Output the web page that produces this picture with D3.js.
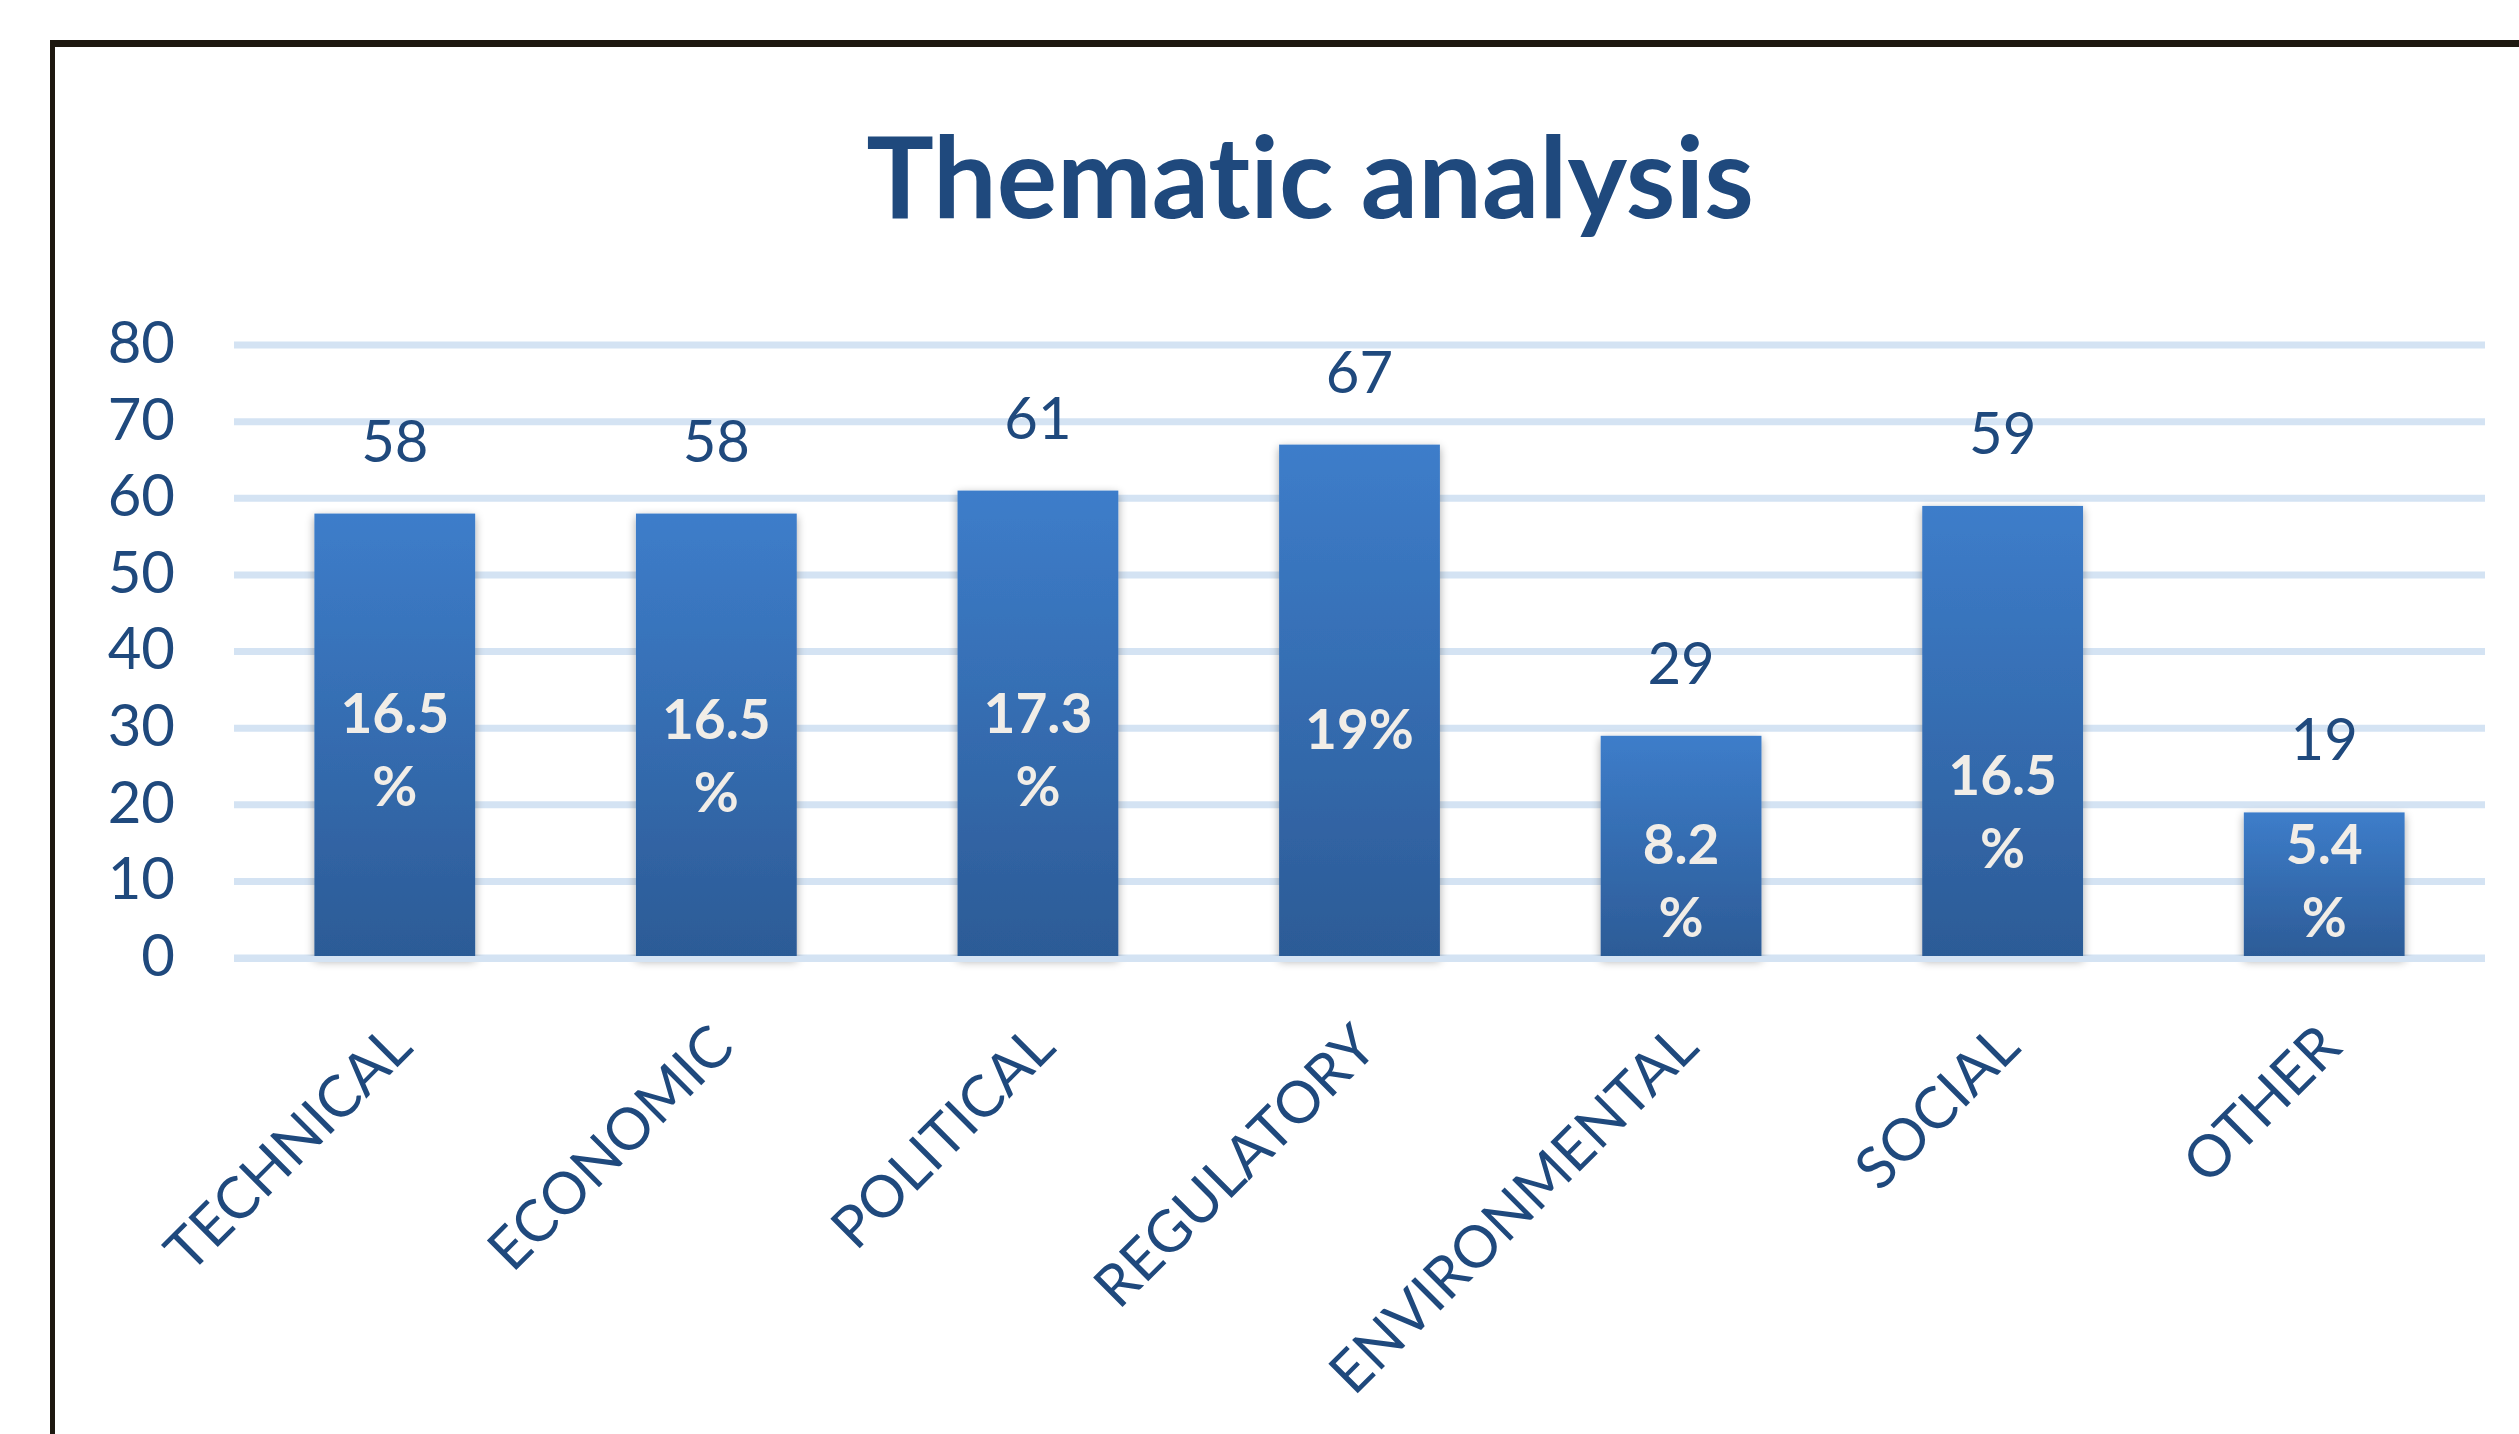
<!DOCTYPE html>
<html>
<head>
<meta charset="utf-8">
<script src="https://cdn.jsdelivr.net/npm/d3@7"></script>
<style>
  body { margin: 0; background: #fff; }
  svg { display: block; }
  text { font-variant-ligatures: none; }
</style>
</head>
<body>
<div id="chart"></div>
<script>
// values
var categories = ["TECHNICAL", "ECONOMIC", "POLITICAL", "REGULATORY", "ENVIRONMENTAL", "SOCIAL", "OTHER"];
var counts = [58, 58, 61, 67, 29, 59, 19];
var shares = [16.5, 16.5, 17.3, 19, 8.2, 16.5, 5.4];
var shareWrapped = [true, true, true, false, true, true, true];
var shareLabelAt = [32, 31.1, 32, 29.9, 14.9, 23.9, 14.9]; // axis units, first line centre
var yTicks = [0, 10, 20, 30, 40, 50, 60, 70, 80];

var width = 2519, height = 1434;
var textBlue = "#1f497d";
var gridColor = "#d4e3f3";
var font = "Lato, 'Open Sans', sans-serif";

var svg = d3.select("#chart").append("svg")
    .attr("width", width)
    .attr("height", height);

var defs = svg.append("defs");
var grad = defs.append("linearGradient")
    .attr("id", "barFill")
    .attr("x1", 0).attr("y1", 0).attr("x2", 0).attr("y2", 1);
grad.append("stop").attr("offset", "0%").attr("stop-color", "#3d7dca");
grad.append("stop").attr("offset", "100%").attr("stop-color", "#2c5b96");

var shadow = defs.append("filter")
    .attr("id", "barShadow")
    .attr("x", "-20%").attr("y", "-10%")
    .attr("width", "140%").attr("height", "120%");
shadow.append("feGaussianBlur").attr("in", "SourceAlpha").attr("stdDeviation", 5).attr("result", "blur");
shadow.append("feOffset").attr("in", "blur").attr("dx", 0).attr("dy", 3).attr("result", "off");
shadow.append("feComponentTransfer").attr("in", "off").attr("result", "soft")
    .append("feFuncA").attr("type", "linear").attr("slope", 0.35);
var merge = shadow.append("feMerge");
merge.append("feMergeNode").attr("in", "soft");
merge.append("feMergeNode").attr("in", "SourceGraphic");

// frame
svg.append("line")
    .attr("x1", 50).attr("x2", width)
    .attr("y1", 43.5).attr("y2", 43.5)
    .attr("stroke", "#1e1810").attr("stroke-width", 7);
svg.append("line")
    .attr("x1", 52.5).attr("x2", 52.5)
    .attr("y1", 40).attr("y2", height)
    .attr("stroke", "#1e1810").attr("stroke-width", 5);

// title
svg.append("text")
    .attr("x", 1310)
    .attr("y", 218)
    .attr("text-anchor", "middle")
    .style("font-family", font)
    .style("font-weight", "bold")
    .style("font-size", "113px")
    .attr("fill", textBlue)
    .text("Thematic analysis");

var x = d3.scaleBand()
    .domain(categories)
    .range([234, 2485])
    .paddingInner(0.5)
    .paddingOuter(0.25);

var y = d3.scaleLinear()
    .domain([0, 80])
    .range([958, 345]);

// gridlines
svg.append("g").selectAll("line")
    .data(yTicks)
    .enter().append("line")
    .attr("x1", 234).attr("x2", 2485)
    .attr("y1", function(d) { return y(d); })
    .attr("y2", function(d) { return y(d); })
    .attr("stroke", gridColor)
    .attr("stroke-width", 7);

// y axis labels
var yAxis = svg.append("g")
    .attr("transform", "translate(175,0)")
    .call(d3.axisLeft(y).tickValues(yTicks).tickSize(0).tickPadding(0));
yAxis.select(".domain").remove();
yAxis.selectAll("text")
    .style("font-family", font)
    .style("font-size", "58px")
    .attr("fill", textBlue)
    .attr("dy", "0.3em");

// bars
svg.append("g").selectAll("rect")
    .data(counts)
    .enter().append("rect")
    .attr("x", function(d, i) { return x(categories[i]); })
    .attr("y", function(d) { return y(d); })
    .attr("width", x.bandwidth())
    .attr("height", function(d) { return y(0) - y(d); })
    .attr("fill", "url(#barFill)")
    .attr("filter", "url(#barShadow)");

// baseline over bar feet
svg.append("line")
    .attr("x1", 234).attr("x2", 2485)
    .attr("y1", y(0) + 1).attr("y2", y(0) + 1)
    .attr("stroke", gridColor)
    .attr("stroke-width", 6);

// count labels above bars
svg.append("g").selectAll("text")
    .data(counts)
    .enter().append("text")
    .attr("x", function(d, i) { return x(categories[i]) + x.bandwidth() / 2; })
    .attr("y", function(d) { return y(d) - 52; })
    .attr("text-anchor", "middle")
    .style("font-family", font)
    .style("font-size", "58px")
    .attr("fill", textBlue)
    .text(function(d) { return d; });

// percentage labels inside bars
var pct = svg.append("g").selectAll("text")
    .data(shares)
    .enter().append("text")
    .attr("text-anchor", "middle")
    .style("font-family", font)
    .style("font-weight", "bold")
    .style("font-size", "55px")
    .attr("fill", "#f1ede7");
pct.each(function(d, i) {
    var t = d3.select(this);
    var cx = x(categories[i]) + x.bandwidth() / 2;
    var cy = y(shareLabelAt[i]);
    if (shareWrapped[i]) {
        t.append("tspan").attr("x", cx).attr("y", cy).attr("dy", "0.36em").text(d);
        t.append("tspan").attr("x", cx).attr("y", cy + 73).attr("dy", "0.36em").text("%");
    } else {
        t.append("tspan").attr("x", cx).attr("y", cy).attr("dy", "0.36em").text(d + "%");
    }
});

// category labels
svg.append("g").selectAll("text")
    .data(categories)
    .enter().append("text")
    .attr("transform", function(d) {
        return "translate(" + (x(d) + x.bandwidth() / 2 + 20) + ",1050) rotate(-45)";
    })
    .attr("text-anchor", "end")
    .style("font-family", font)
    .style("font-size", "58px")
    .attr("fill", textBlue)
    .text(function(d) { return d; });
</script>
</body>
</html>
